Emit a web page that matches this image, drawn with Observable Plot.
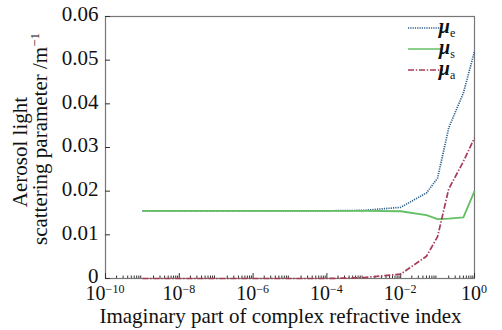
<!DOCTYPE html>
<html><head><meta charset="utf-8">
<script src="https://cdn.jsdelivr.net/npm/d3@7"></script>
<script src="https://cdn.jsdelivr.net/npm/@observablehq/plot@0.6"></script>
<style>
body{margin:0;background:#fff;}
#chart{position:relative;width:502px;height:330px;}
svg text{font-family:"Liberation Serif","DejaVu Serif",serif;}
</style></head><body><div id="chart"></div>
<script>
// ---- data ----
const imagPart = [1e-9, 1e-8, 1e-7, 1e-6, 1e-5, 1e-4, 1e-3, 1e-2, 0.05, 0.1, 0.2, 0.5, 1];
const muE = [0.0155, 0.0155, 0.0155, 0.0155, 0.0155, 0.0155, 0.0156, 0.0163, 0.0196, 0.0230, 0.0345, 0.0425, 0.0520];
const muS = [0.0155, 0.0155, 0.0155, 0.0155, 0.0155, 0.0155, 0.0155, 0.0154, 0.0145, 0.0136, 0.0137, 0.0140, 0.0200];
const muA = [0, 0, 0, 0, 0, 0, 0.0002, 0.0010, 0.0051, 0.0096, 0.0205, 0.0268, 0.0322];
const seriesKeys = ["e", "s", "a"];
const seriesColors = ["#2f5f8c", "#63bf63", "#a63c57"];
const seriesDash = ["1.2,1.1", null, "6,1.8,1.4,1.8"];
const xTickValues = [1e-10, 1e-8, 1e-6, 1e-4, 1e-2, 1];
const xTickBase = ["10", "10", "10", "10", "10", "10"];
const xTickExp = ["\u221210", "\u22128", "\u22126", "\u22124", "\u22122", "0"];
const yTickValues = [0, 0.01, 0.02, 0.03, 0.04, 0.05, 0.06];
const yTickLabels = ["0", "0.01", "0.02", "0.03", "0.04", "0.05", "0.06"];
const xLabel = "Imaginary part of complex refractive index";
const yLabelLines = ["Aerosol light", "scattering parameter /m"];
const yLabelSup = "\u22121";

// ---- build ----
const FONT = "Liberation Serif";
const seriesValues = [muE, muS, muA];
const rows = [];
seriesKeys.forEach((k, si) => imagPart.forEach((x, i) => rows.push({series: k, x, y: seriesValues[si][i]})));
const minorX = [];
for (let e = -10; e < 0; e++) for (let m = 2; m <= 9; m++) minorX.push(m * Math.pow(10, e));

const lineMarks = seriesKeys.map((k, si) => Plot.line(rows.filter(r => r.series === k), {
  x: "x", y: "y", stroke: seriesColors[si], strokeWidth: si === 1 ? 1.8 : 1.7,
  strokeDasharray: seriesDash[si] || undefined, strokeLinecap: "butt"
}));

const plot = Plot.plot({
  width: 502, height: 330,
  marginLeft: 105, marginRight: 28, marginTop: 16, marginBottom: 52,
  style: {fontFamily: FONT, fontSize: "21px", background: "#fff", color: "#111"},
  x: {type: "log", domain: [1e-10, 1]},
  y: {domain: [0, 0.06]},
  marks: [
    Plot.frame({stroke: "#777", strokeWidth: 1.2}),
    Plot.tickX(xTickValues, {x: d => d, insetTop: 257, stroke: "#333"}),
    Plot.tickX(minorX, {x: d => d, insetTop: 259.5, stroke: "#333"}),
    Plot.tickY(yTickValues, {y: d => d, insetRight: 364, stroke: "#333"}),
    Plot.axisY(yTickValues, {tickSize: 0, tickPadding: 7, label: null,
      tickFormat: d => yTickLabels[yTickValues.indexOf(d)], fontSize: 21, dy: -2}),
    Plot.axisX({ticks: [], label: null}),
    ...lineMarks
  ]
});
document.getElementById("chart").appendChild(plot);

// ---- extra text: tick labels with superscripts, axis titles, legend ----
const svg = d3.select(plot);
const sx = plot.scale("x"), sy = plot.scale("y");
const xr = sx.range, yr = sy.range;
const g = svg.append("g").attr("font-family", FONT).attr("fill", "#111");

xTickValues.forEach((v, i) => {
  const t = g.append("text").attr("x", sx.apply(v)).attr("y", yr[0] + 22)
    .attr("text-anchor", "middle").attr("font-size", 20);
  t.append("tspan").text(xTickBase[i]);
  t.append("tspan").attr("font-size", 12).attr("dy", -7).text(xTickExp[i]);
});

g.append("text").attr("x", (xr[0] + xr[1]) / 2 - 9).attr("y", yr[0] + 45)
  .attr("text-anchor", "middle").attr("font-size", 21).text(xLabel);

const midY = (yr[0] + yr[1]) / 2;
g.append("text").attr("transform", `translate(27,${midY + 5}) rotate(-90)`)
  .attr("text-anchor", "middle").attr("font-size", 21).text(yLabelLines[0]);
const yl2 = g.append("text").attr("transform", `translate(47,${midY - 8}) rotate(-90)`)
  .attr("text-anchor", "middle").attr("font-size", 21);
yl2.append("tspan").text(yLabelLines[1]);
yl2.append("tspan").attr("font-size", 13).attr("dy", -8).text(yLabelSup);

// legend
const lg = svg.append("g").attr("font-family", FONT);
seriesKeys.forEach((k, si) => {
  const y0 = yr[1] + 12 + si * 21;
  lg.append("line").attr("x1", xr[1] - 66).attr("x2", xr[1] - 31).attr("y1", y0).attr("y2", y0)
    .attr("stroke", seriesColors[si]).attr("stroke-width", 1.7)
    .attr("stroke-dasharray", seriesDash[si]);
  const t = lg.append("text").attr("x", xr[1] - 27).attr("y", y0 + 5).attr("fill", "#111").attr("font-size", 20);
  t.append("tspan").attr("font-style", "italic").attr("font-weight", "bold").text("\u03bc");
  t.append("tspan").attr("font-size", 12).attr("dy", 4).text(k);
});
</script></body></html>
